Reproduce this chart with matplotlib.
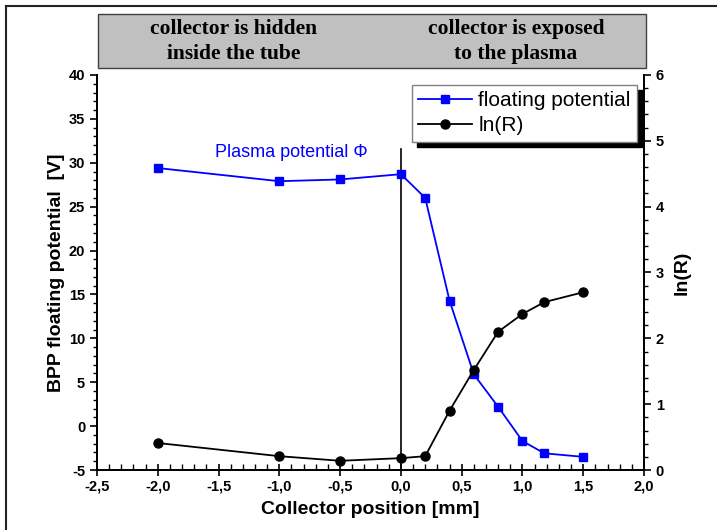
import matplotlib
matplotlib.use("Agg")
import matplotlib.pyplot as plt
from matplotlib.ticker import MultipleLocator, FuncFormatter
from matplotlib.patches import Rectangle
from matplotlib.lines import Line2D

plt.rcParams['font.family'] = ['Liberation Sans', 'DejaVu Sans']
plt.rcParams['axes.unicode_minus'] = False

# Collector position [mm]
position = [-2.0, -1.0, -0.5, 0.0, 0.2, 0.4, 0.6, 0.8, 1.0, 1.18, 1.5]
# BPP floating potential [V]
floating_potential = [29.4, 27.9, 28.1, 28.7, 26.0, 14.3, 5.9, 2.2, -1.7, -3.1, -3.5]
# ln(R)
ln_r = [0.41, 0.21, 0.14, 0.18, 0.21, 0.90, 1.52, 2.10, 2.37, 2.55, 2.70]

region_labels = ["collector is hidden\ninside the tube",
                 "collector is exposed\nto the plasma"]

blue = "#0000ff"

fig = plt.figure(figsize=(7.17, 5.30), dpi=100)
ax = fig.add_axes([0.1353, 0.1132, 0.8982 - 0.1353, 0.8585 - 0.1132])
ax2 = ax.twinx()

# Outer frame lines of the figure
fig.add_artist(Line2D([0.0084, 1.0], [0.9887, 0.9887], color="#222222", lw=1.5))
fig.add_artist(Line2D([0.0084, 0.0084], [0.0, 0.9887], color="#222222", lw=1.5))

# Grey header band with region descriptions
fig.add_artist(Rectangle((0.1367, 0.8717), 0.901 - 0.1367, 0.9736 - 0.8717,
                         transform=fig.transFigure, facecolor="#c0c0c0",
                         edgecolor="#404040", lw=1.0))
for xc, txt in zip([234 / 717, 516 / 717], region_labels):
    fig.text(xc, 0.922, txt, ha="center", va="center", fontsize=15.5,
             fontweight="bold", family="Liberation Serif", linespacing=1.3)

l1, = ax.plot(position, floating_potential, color=blue, marker="s", ms=6,
              lw=1.3, label="floating potential", zorder=3)
l2, = ax2.plot(position, ln_r, color="black", marker="o", ms=6.5,
               lw=1.3, label="ln(R)", zorder=3)

ax.set_xlim(-2.5, 2.0)
ax.set_ylim(-5, 40)
ax2.set_ylim(0, 6)

# Boundary between the two regions
ax.plot([0, 0], [31.6, -5], color="black", lw=1.2, zorder=2)
ax.text(-0.905, 31.2, "Plasma potential \u03a6", color=blue, fontsize=13,
        ha="center", va="center", family=["Liberation Sans", "DejaVu Sans"])

comma = FuncFormatter(lambda v, p: f"{v:.1f}".replace(".", ","))
ax.xaxis.set_major_locator(MultipleLocator(0.5))
ax.xaxis.set_minor_locator(MultipleLocator(0.1))
ax.xaxis.set_major_formatter(comma)
ax.yaxis.set_major_locator(MultipleLocator(5))
ax.yaxis.set_minor_locator(MultipleLocator(1))
ax2.yaxis.set_major_locator(MultipleLocator(1))
ax2.yaxis.set_minor_locator(MultipleLocator(0.2))

for a in (ax, ax2):
    a.spines["top"].set_visible(False)
    for s in a.spines.values():
        s.set_linewidth(1.3)

ax.tick_params(axis="x", which="major", direction="inout", length=8, width=1.2,
               labelsize=10.5, pad=3)
ax.tick_params(axis="x", which="minor", direction="in", length=4, width=1.0)
ax.tick_params(axis="y", which="major", direction="out", length=5, width=1.2,
               labelsize=10.5)
ax.tick_params(axis="y", which="minor", direction="out", length=3, width=1.0)
ax2.tick_params(axis="y", which="major", direction="out", length=5, width=1.2,
                labelsize=10.5)
ax2.tick_params(axis="y", which="minor", direction="out", length=3, width=1.0)
for lab in ax.get_xticklabels() + ax.get_yticklabels() + ax2.get_yticklabels():
    lab.set_fontweight("bold")

ax.set_xlabel("Collector position [mm]", fontsize=14, fontweight="bold", labelpad=5)
ax.set_ylabel("BPP floating potential  [V]", fontsize=14, fontweight="bold", labelpad=3)
ax2.set_ylabel("ln(R)", fontsize=14, fontweight="bold", labelpad=7)

leg = ax.legend(handles=[l1, l2], loc="upper right",
                bbox_to_anchor=(0.987, 0.975), borderaxespad=0, fontsize=15,
                numpoints=1, handlelength=2.6, handletextpad=0.3,
                borderpad=0.3, labelspacing=0.3, fancybox=False,
                framealpha=1, edgecolor="#808080",
                shadow={"color": "black", "alpha": 1, "ox": 4, "oy": -4})
leg.get_frame().set_linewidth(1.0)
leg.set_zorder(5)

fig.savefig("out.png", dpi=100)
